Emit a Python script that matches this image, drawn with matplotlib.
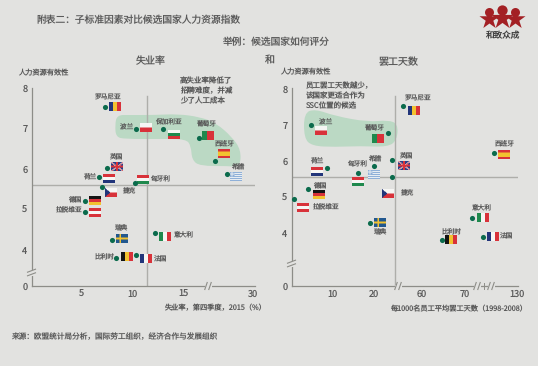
import numpy as np
import matplotlib
matplotlib.use("Agg")
import matplotlib.pyplot as plt
from matplotlib.path import Path
from matplotlib.patches import PathPatch
from matplotlib.offsetbox import OffsetImage, AnnotationBbox

plt.rcParams['font.family'] = ['Noto Sans CJK SC', 'DejaVu Sans']
plt.rcParams['text.hinting'] = 'no_hinting'
plt.rcParams['text.hinting_factor'] = 1

W, H = 538, 366
BG = '#e2e2e0'
TXT = '#5a5a5a'
DOT = '#0b6b4c'
BLOB = '#bbd9c4'
AX = '#8d8d88'
LINE = '#aeaeaa'
RED = '#a32024'

# ---------- data ----------
countries = ['罗马尼亚', '波兰', '保加利亚', '葡萄牙', '西班牙', '希腊', '英国', '荷兰',
             '匈牙利', '捷克', '德国', '拉脱维亚', '瑞典', '意大利', '比利时', '法国']
unemployment = [7.3, 10.3, 13.0, 16.6, 19.4, 22.8, 7.5, 6.7,
                10.2, 7.0, 5.3, 5.3, 8.0, 12.2, 8.4, 10.3]
hr_score_left = [7.53, 6.99, 6.99, 6.77, 6.20, 5.88, 6.02, 5.80,
                 5.65, 5.56, 5.21, 4.94, 4.25, 4.42, 3.80, 3.88]
strike_days = [55.7, 4.7, None, 23.4, 121.5, 20.0, 24.3, 8.6,
               16.1, 24.3, 4.0, 0.6, 19.0, 71.6, 64.7, 92.6]
hr_score_right = [7.53, 7.00, None, 6.78, 6.22, 5.86, 6.03, 5.81,
                  5.67, 5.56, 5.22, 4.94, 4.28, 4.42, 3.81, 3.89]
left_ref_x, left_ref_y = 11.4, 5.6
right_ref_x, right_ref_y = 25.3, 5.55
left_xticks = [5, 10, 15, 30]
right_xticks = [10, 20, 60, 70, 130]
yticks = [0, 4, 5, 6, 7, 8]

# ---------- layout: pixel offsets from the point (flag dx, dy, label dx, dy; y down) ----------
left_off = {
    '罗马尼亚': (10, -1, 3, -10), '波兰': (10, -1, -9, -2), '保加利亚': (11, 6, 6, -7),
    '葡萄牙': (9, -2, 7, -13), '西班牙': (9, -7, 10, -16), '希腊': (9, 3, 11, -6),
    '英国': (10, -2, 8, -11), '荷兰': (10, 2, -9, 0), '匈牙利': (8, -4, 26, -4),
    '捷克': (9, 6, 26, 5), '德国': (10, 0, -10, 0), '拉脱维亚': (10, 1, -16, -1),
    '瑞典': (10, -1, 9, -11), '意大利': (10, 4, 29, 3), '比利时': (11, -1, -12, -1),
    '法国': (10, 4, 25, 5)}
right_off = {
    '罗马尼亚': (11, 5, 15, -8), '波兰': (10, 5, 15, -3), '葡萄牙': (-10, 6, -14, -5),
    '西班牙': (10, 1, 11, -9), '希腊': (0, 8, 1, -7), '英国': (12, 6, 14, -4),
    '荷兰': (-10, 4, -10, -6), '匈牙利': (0, 9, -1, -9), '捷克': (-4, 17, 15, 16),
    '德国': (11, 5, 12, -3), '拉脱维亚': (9, 8, 32, 8), '瑞典': (10, 0, 11, 9),
    '意大利': (11, 0, 10, -10), '比利时': (9, 0, 9, -8), '法国': (10, 0, 24, -1)}

# ---------- flags ----------
B, Y, R, W_, G, K = '#22357a', '#f2c230', '#d8323a', '#f6f6f4', '#1f8a4d', '#141414'


def stripes(cols, vertical=False, w=24, h=18):
    rgb = np.array([matplotlib.colors.to_rgb(c) for c in cols])
    n = len(cols)
    if vertical:
        idx = (np.arange(w) * n // w)
        return np.repeat(rgb[idx][None, :, :], h, axis=0)
    idx = (np.arange(h) * n // h)
    return np.repeat(rgb[idx][:, None, :], w, axis=1)


def cross(bg, fg, w=24, h=18, cx=8, t=3):
    a = np.ones((h, w, 3)) * matplotlib.colors.to_rgb(bg)
    a[h // 2 - t // 2 - 1:h // 2 + t // 2 + 1, :] = matplotlib.colors.to_rgb(fg)
    a[:, cx - t // 2:cx + t // 2 + 1] = matplotlib.colors.to_rgb(fg)
    return a


def uk():
    a = np.ones((18, 24, 3)) * matplotlib.colors.to_rgb('#2c3f86')
    yy, xx = np.mgrid[0:18, 0:24]
    d1 = np.abs(yy / 18 - xx / 24) < .09
    d2 = np.abs(yy / 18 - (1 - xx / 24)) < .09
    a[d1 | d2] = matplotlib.colors.to_rgb(W_)
    a[np.abs(yy / 18 - xx / 24) < .035] = matplotlib.colors.to_rgb(R)
    a[np.abs(yy / 18 - (1 - xx / 24)) < .035] = matplotlib.colors.to_rgb(R)
    a[7:11, :] = matplotlib.colors.to_rgb(R)
    a[:, 10:14] = matplotlib.colors.to_rgb(R)
    return a


def czech():
    a = stripes([W_, R])
    yy, xx = np.mgrid[0:18, 0:24]
    a[xx < 10 * (1 - np.abs(yy - 8.5) / 9)] = matplotlib.colors.to_rgb(B)
    return a


def greece():
    a = stripes(['#8fb0d8', '#e6ecf2'] * 4 + ['#8fb0d8'])
    a[:9, :9] = matplotlib.colors.to_rgb('#8fb0d8')
    a[3:5, :9] = a[:9, 3:5] = matplotlib.colors.to_rgb('#e6ecf2')
    return a


flags = {
    '罗马尼亚': stripes([B, Y, R], True), '波兰': stripes([W_, R]),
    '保加利亚': stripes([W_, G, R]), '葡萄牙': stripes([G, G, R, R, R], True),
    '西班牙': stripes([R, Y, Y, R]), '希腊': greece(), '英国': uk(),
    '荷兰': stripes([R, W_, B]), '匈牙利': stripes([R, W_, G]), '捷克': czech(),
    '德国': stripes([K, R, Y]), '拉脱维亚': stripes([R, W_, R]),
    '瑞典': cross('#22588f', '#f2c230'), '意大利': stripes([G, W_, R], True),
    '比利时': stripes([K, Y, R], True), '法国': stripes([B, W_, R], True)}

# ---------- figure ----------
fig = plt.figure(figsize=(W / 100, H / 100), dpi=100, facecolor=BG)


def overlay(z):
    a = fig.add_axes([0, 0, 1, 1], zorder=z)
    a.set_xlim(0, W)
    a.set_ylim(H, 0)
    a.axis('off')
    return a


under = overlay(0)
ov = overlay(3)


def blob(pts):
    pts = np.array(pts, float)
    mids = (pts + np.roll(pts, -1, axis=0)) / 2
    verts = [mids[-1]]
    codes = [Path.MOVETO]
    for p, m in zip(pts, mids):
        verts += [p, m]
        codes += [Path.CURVE3, Path.CURVE3]
    under.add_patch(PathPatch(Path(verts, codes), fc=BLOB, ec='none', zorder=1))


blob([(117, 115), (130, 115), (155, 115), (178, 114), (200, 117), (216, 123), (232, 137),
      (241, 150), (240, 167), (228, 166), (200, 166), (192, 160), (191, 146), (186, 139),
      (160, 139), (125, 139), (116, 137), (115, 125)])
blob([(304, 113), (315, 109), (335, 116), (368, 122), (388, 120), (398, 124), (397, 140),
      (388, 147), (360, 146), (335, 147), (312, 146), (304, 138)])


def make_axes(rect_px, xmap, ymap, xticks, ref_x, ref_y, xs, ys, offs):
    l, r, t, b = rect_px
    ax = fig.add_axes([l / W, 1 - b / H, (r - l) / W, (b - t) / H], zorder=2)
    ax.patch.set_alpha(0)
    xv, xp = xmap
    yv, yp = ymap
    ax.set_xscale('function', functions=(lambda v: np.interp(v, xv, xp),
                                         lambda p: np.interp(p, xp, xv)))
    ax.set_yscale('function', functions=(lambda v: np.interp(v, yv, yp),
                                         lambda p: np.interp(p, yp, yv)))
    ax.set_xlim(xv[0], xv[-1])
    ax.set_ylim(yv[0], yv[-1])
    ax.set_xticks(xticks)
    ax.set_yticks(yticks)
    ax.minorticks_off()
    ax.tick_params(length=0, labelsize=6.6, labelcolor=TXT, pad=3)
    ax.tick_params(axis='x', pad=2.5)
    ax.spines[['top', 'right']].set_visible(False)
    for s in ('left', 'bottom'):
        ax.spines[s].set_color(AX)
        ax.spines[s].set_linewidth(0.9)
    ax.axhline(ref_y, color=LINE, lw=1.0, zorder=1)
    ax.plot([ref_x, ref_x], [0, 7.8], color=LINE, lw=1.0, zorder=1)
    for name, xval, yval in zip(countries, xs, ys):
        if xval is None:
            continue
        ax.plot([xval], [yval], 'o', ms=3.7, color=DOT, mec='none', zorder=4, clip_on=False)
        fx, fy, lx, ly = offs[name]
        ab = AnnotationBbox(OffsetImage(flags[name], zoom=0.36, interpolation='bilinear', dpi_cor=True),
                            (xval, yval), xybox=(fx, -fy), xycoords='data',
                            boxcoords='offset pixels', frameon=False, pad=0, zorder=3)
        ax.add_artist(ab)
        ax.annotate(name, (xval, yval), xytext=(lx, -ly), textcoords='offset pixels',
                    ha='center', va='center', fontsize=4.8, color=TXT, zorder=5)
    return ax


make_axes((31.5, 255, 88, 286),
          ([0, 15, 17.5, 30, 30.5], [0, 151.5, 176.5, 221.5, 223.5]),
          ([0, 3.5, 8], [0, 16, 198]),
          left_xticks, left_ref_x, left_ref_y, unemployment, hr_score_left, left_off)
make_axes((291.5, 518, 88, 286),
          ([0, 20, 25, 55, 60, 70, 73, 120, 130, 130.3],
           [0, 82.5, 103.5, 108.5, 130.5, 173.5, 186.5, 198.5, 225.5, 226.5]),
          ([0, 3, 8.03], [0, 17, 198]),
          right_xticks, right_ref_x, right_ref_y, strike_days, hr_score_right, right_off)


# ---------- axis breaks ----------
def brk(x, y, horiz_axis):
    if horiz_axis:
        ov.plot([x - 2, x + 2], [y, y], color=BG, lw=2.2, zorder=5)
        for dx in (-2, 2):
            ov.plot([x + dx - 1.2, x + dx + 1.2], [y + 3.5, y - 3.5], color=AX, lw=0.8, zorder=6)
    else:
        ov.plot([x, x], [y - 1.6, y + 1.6], color=BG, lw=2.2, zorder=5)
        for dy in (-1.8, 1.8):
            ov.plot([x - 4, x + 4], [y + dy + 1.5, y + dy - 1.5], color=AX, lw=0.8, zorder=6)


brk(31.5, 272.5, False)
brk(291.5, 263.5, False)
brk(208, 286, True)
brk(398, 286, True)
brk(477, 286, True)
brk(491, 286, True)
ov.plot([484, 484], [283, 289], color=AX, lw=0.7, zorder=6)


# ---------- text ----------
def t(x, y, s, size, ha='left', color=TXT):
    ov.text(x, y, s, fontsize=size, ha=ha, va='center', color=color, zorder=7)


t(36, 20, '附表二：子标准因素对比候选国家人力资源指数', 7)
t(276, 42, '举例：候选国家如何评分', 7, 'center')
t(151, 61, '失业率', 7.2, 'center')
t(269.5, 60.5, '和', 7.2, 'center')
t(398.5, 62, '罢工天数', 7.2, 'center')
t(18, 73, '人力资源有效性', 5.2)
t(280, 72.5, '人力资源有效性', 5.2)
for i, s in enumerate(['高失业率降低了', '招聘难度，并减', '少了人工成本']):
    t(180, 81 + i * 10, s, 5.4)
for i, s in enumerate(['员工罢工天数越少，', '该国家更适合作为', 'SSC位置的候选']):
    t(306, 86 + i * 10, s, 5.4)
t(266, 308, '失业率，第四季度，2015（%）', 5.2, 'right')
t(527, 309.5, '每1000名员工平均罢工天数（1998-2008）', 5.2, 'right')
t(11, 337, '来源：欧盟统计局分析，国际劳工组织，经济合作与发展组织', 5.5)

# ---------- logo ----------
for cx, cy, sz in ((489, 19, 230), (502, 18, 280), (515, 19, 230)):
    ov.scatter([cx], [cy], marker='*', s=sz, color=RED, lw=0, zorder=6)
for cx, cy, sz in ((489, 12, 42), (502, 10, 55), (515, 12, 42)):
    ov.scatter([cx], [cy], marker='o', s=sz, color=RED, lw=0, zorder=6)
t(503, 36, '和致众成', 6.2, 'center', '#3c3c3c')

fig.savefig('out.png', dpi=100, facecolor=BG)
